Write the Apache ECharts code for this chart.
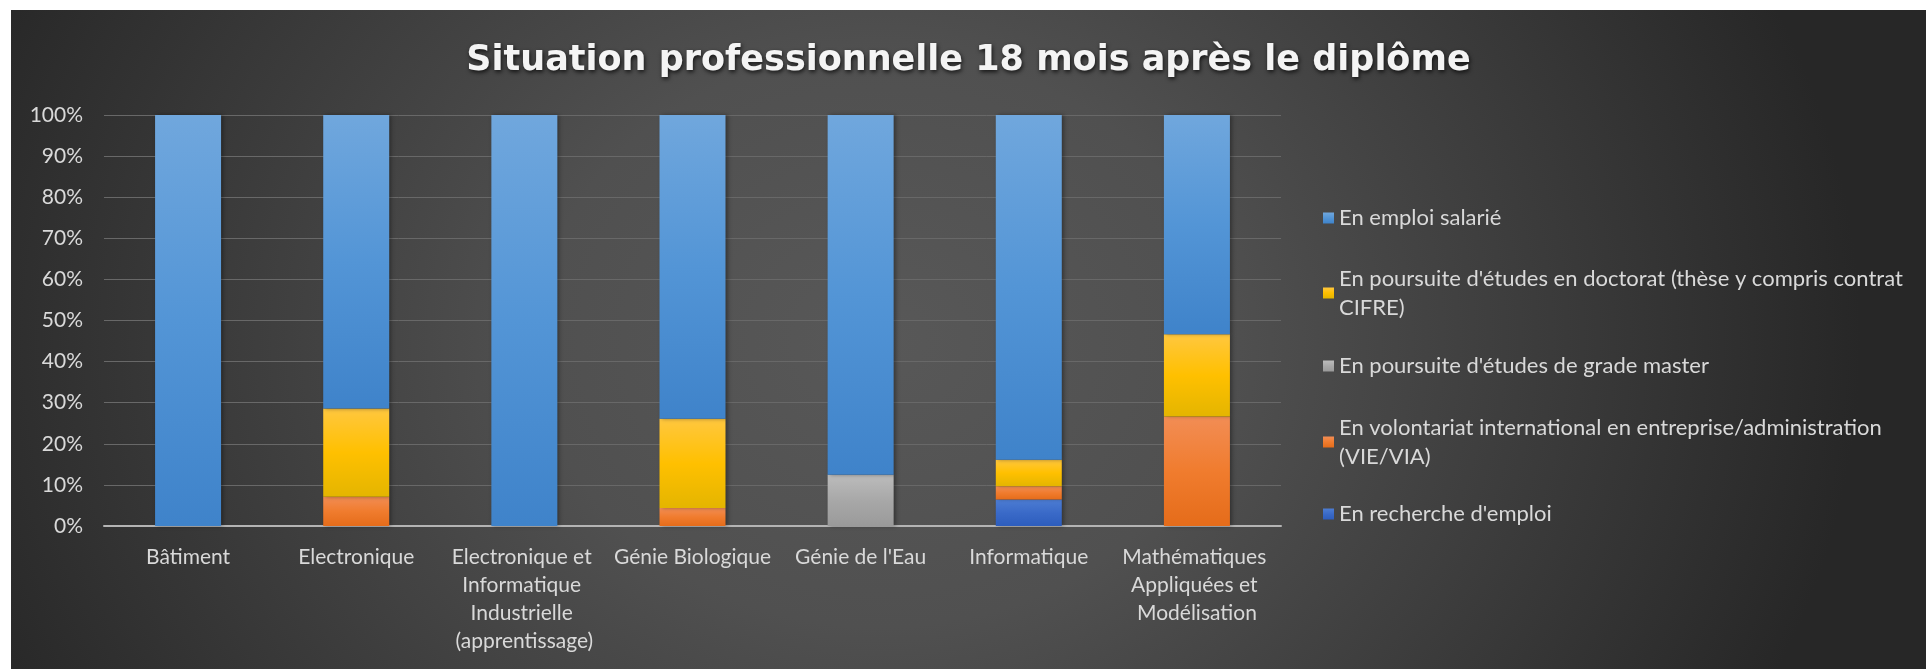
<!DOCTYPE html>
<html>
<head>
<meta charset="utf-8">
<script src="https://cdn.jsdelivr.net/npm/echarts@6/dist/echarts.min.js"></script>
<style>
  html, body { margin: 0; padding: 0; background: #ffffff; width: 1926px; height: 669px; overflow: hidden; }
  #chart {
    position: absolute; left: 11px; top: 10px; width: 1915px; height: 659px;
    background: radial-gradient(ellipse 980px 820px at 870px 330px, #585858 0%, #505050 35%, #3a3a3a 70%, #272727 100%);
  }
</style>
</head>
<body>
<div id="chart"></div>
<script>
const titleText = 'Situation professionnelle 18 mois après le diplôme';
const categories = ['Bâtiment', 'Electronique', 'Electronique et Informatique Industrielle (apprentissage)', 'Génie Biologique', "Génie de l'Eau", 'Informatique', 'Mathématiques Appliquées et Modélisation'];
const seriesNames = ["En recherche d'emploi", 'En volontariat international en entreprise/administration (VIE/VIA)', "En poursuite d'études de grade master", "En poursuite d'études en doctorat (thèse y compris contrat CIFRE)", 'En emploi salarié'];
const recherche   = [0, 0, 0, 0, 0, 6.45, 0];
const volontariat = [0, 7.14, 0, 4.35, 0, 3.23, 26.67];
const master      = [0, 0, 0, 0, 12.5, 0, 0];
const doctorat    = [0, 21.43, 0, 21.74, 0, 6.45, 20];
const emploi      = [100, 71.43, 100, 73.91, 87.5, 83.87, 53.33];
const yTicks = [0, 10, 20, 30, 40, 50, 60, 70, 80, 90, 100];

const seriesData = [recherche, volontariat, master, doctorat, emploi];
const gradients = [
  ['#4d7dd3', '#3a6ac8', '#2d5dbd'],
  ['#f28d55', '#f07c2e', '#e56c1a'],
  ['#bcbcbc', '#a8a8a8', '#9a9a9a'],
  ['#ffc73f', '#ffc000', '#e4b500'],
  ['#70a7dd', '#5395d6', '#3f83ca']
];

const chart = echarts.init(document.getElementById('chart'), null, { renderer: 'canvas' });

const fontFamily = 'Lato, "Open Sans", sans-serif';
const textColor = '#d9d9d9';

function grad(c) {
  return new echarts.graphic.LinearGradient(0, 0, 0, 1, [
    { offset: 0, color: c[0] }, { offset: 0.5, color: c[1] }, { offset: 1, color: c[2] }
  ]);
}

const series = seriesNames.map((name, i) => ({
  name: name,
  type: 'bar',
  stack: 'total',
  barWidth: 66,
  data: seriesData[i],
  itemStyle: {
    color: grad(gradients[i]),
    shadowColor: 'rgba(0,0,0,0.35)',
    shadowBlur: 4,
    shadowOffsetX: 2
  },
  emphasis: { disabled: true }
}));

// legend: one component per entry, to reproduce Excel's uneven spacing
const legendCenters = [208, 283, 356, 432, 504];
const legendOrder = [4, 3, 2, 1, 0];
const twoLine = { 3: true, 1: true };
const LH = 29;
const legends = legendOrder.map((si, k) => ({
  data: [seriesNames[si]],
  left: 1312,
  top: legendCenters[k] - (twoLine[si] ? 1.5 * LH : LH / 2),
  orient: 'vertical',
  padding: 0,
  itemWidth: 11,
  itemHeight: 11,
  selectedMode: false,
  icon: 'rect',
  formatter: function (n) {
    return n.replace(' CIFRE)', '\nCIFRE)').replace(' (VIE/VIA)', '\n(VIE/VIA)');
  },
  textStyle: {
    color: textColor,
    fontFamily: fontFamily,
    fontSize: 22,
    lineHeight: LH,
    padding: twoLine[si] ? [LH, 0, 0, 0] : 0
  }
}));

chart.setOption({
  backgroundColor: 'transparent',
  animation: false,
  title: {
    text: titleText,
    left: 'center',
    top: 28,
    textStyle: {
      color: '#f4f4f4',
      fontFamily: '"DejaVu Sans", "Open Sans", sans-serif',
      fontWeight: 'bold',
      fontSize: 35,
      textShadowColor: 'rgba(0,0,0,0.75)',
      textShadowBlur: 4,
      textShadowOffsetX: 1,
      textShadowOffsetY: 2
    }
  },
  legend: legends,
  grid: { left: 93, right: 645, top: 105, bottom: 143, containLabel: false },
  xAxis: {
    type: 'category',
    data: categories,
    axisLine: { show: true, lineStyle: { color: '#b4b4b4', width: 2 } },
    axisTick: { show: false },
    axisLabel: {
      color: textColor,
      fontFamily: fontFamily,
      fontSize: 21,
      lineHeight: 28,
      margin: 17,
      interval: 0,
      width: 180,
      overflow: 'break'
    }
  },
  yAxis: {
    type: 'value',
    min: yTicks[0],
    max: yTicks[yTicks.length - 1],
    interval: yTicks[1] - yTicks[0],
    axisLine: { show: false },
    axisTick: { show: false },
    splitLine: { show: true, lineStyle: { color: '#686868', width: 1 } },
    axisLabel: {
      color: textColor,
      fontFamily: fontFamily,
      fontSize: 21,
      margin: 21,
      formatter: v => v + '%'
    }
  },
  series: series
});
</script>
</body>
</html>
